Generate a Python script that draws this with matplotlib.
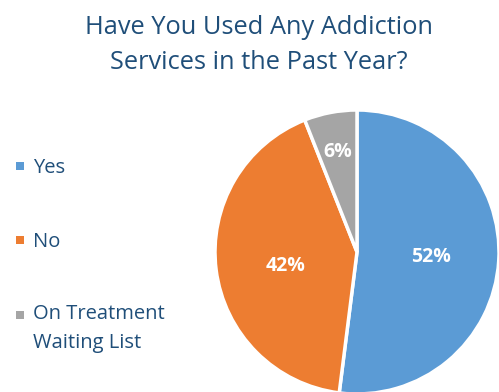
import numpy as np
import matplotlib
matplotlib.use("Agg")
import matplotlib.pyplot as plt
from matplotlib.patches import Rectangle

categories = ["Yes", "No", "On Treatment\nWaiting List"]
values = [52, 42, 6]
colors = ["#5B9BD5", "#ED7D31", "#A5A5A5"]
label_dist = [0.52, 0.51, 0.72]
title = "Have You Used Any Addiction\nServices in the Past Year?"
text_color = "#1F4E79"

W, H = 499, 392
fig = plt.figure(figsize=(W / 100, H / 100), dpi=100)
fig.patch.set_facecolor("white")

cx, cy, r = 357, 252, 142
ax = fig.add_axes([(cx - r) / W, (H - cy - r) / H, 2 * r / W, 2 * r / H])
wedges, _, autotexts = ax.pie(values, colors=colors, startangle=90, counterclock=False,
                              autopct=lambda p: f"{p:.0f}%", pctdistance=0.55,
                              wedgeprops=dict(edgecolor="white", linewidth=2.5),
                              textprops=dict(color="white", fontsize=14, fontweight="bold",
                                             family="Open Sans"))
for w, t, d in zip(wedges, autotexts, label_dist):
    ang = np.deg2rad((w.theta1 + w.theta2) / 2)
    t.set_position((d * np.cos(ang), d * np.sin(ang)))
autotexts[1].set_position((-0.50, -0.10))
ax.set_xlim(-1, 1)
ax.set_ylim(-1, 1)
ax.set_aspect("equal")
ax.axis("off")

fig.text(259 / W, 1 - 45 / H, title, ha="center", va="center", fontsize=18.3,
         color=text_color, family="Open Sans", linespacing=1.5)

ys = [168, 242, 317]
for cat, col, y in zip(categories, colors, ys):
    fig.patches.append(Rectangle((16 / W, 1 - (y + 2) / H), 8 / W, 8 / H,
                                 transform=fig.transFigure, facecolor=col,
                                 edgecolor="none"))
    fig.text(33 / W, 1 - y / H, cat, ha="left", va="top" if "\n" in cat else "center",
             fontsize=14.5, color=text_color, family="Open Sans", linespacing=1.6)
# adjust multi-line label so first line centers on marker
fig.texts[-1].set_position((33 / W, 1 - (y - 13) / H))

fig.savefig("out.png", dpi=100)
